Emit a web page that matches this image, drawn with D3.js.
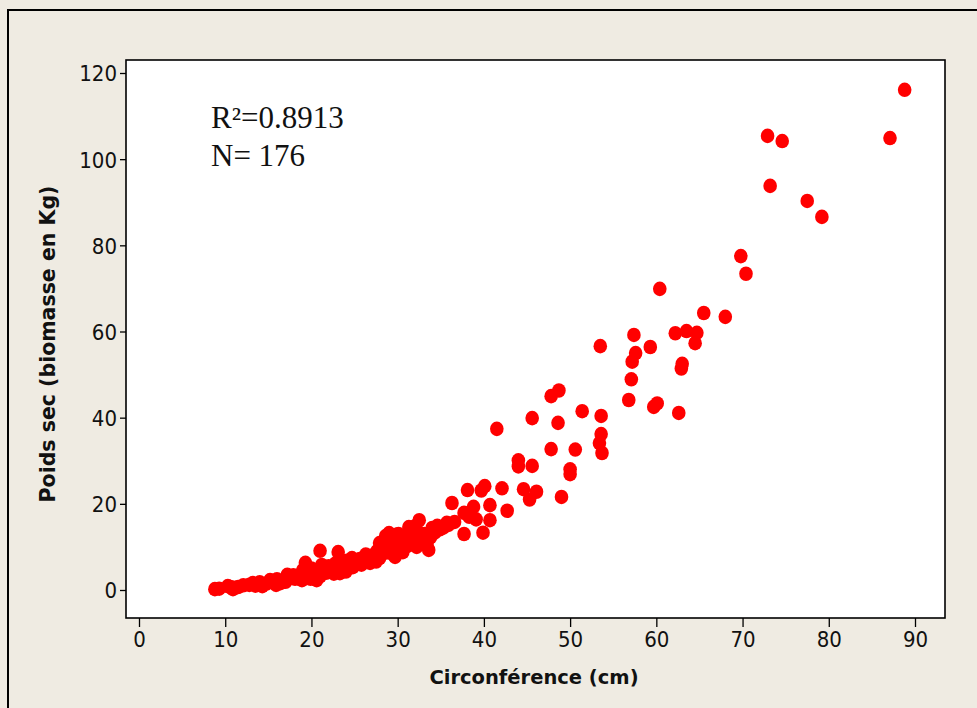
<!DOCTYPE html>
<meta charset="utf-8">
<style>
    body { margin: 0; background: #efebe2; }
    .tick text { font-family: "DejaVu Sans Condensed", "DejaVu Sans", sans-serif; font-size: 22px; fill: #111; }
    .axis-title { font-family: "DejaVu Sans", sans-serif; font-weight: bold; fill: #111; }
    .note { font-family: "Liberation Serif", serif; font-size: 31px; fill: #111; }
</style>
<svg id="svg" width="977" height="708"></svg>
<script src="https://d3js.org/d3.v7.min.js"></script>
<script>

    // circumference (cm) / dry weight (kg)
    var circ = [88.8, 87.1, 72.9, 74.6, 73.2, 77.5, 79.2, 69.8, 70.4, 60.4,
        65.5, 68.0, 62.2, 63.5, 64.7, 64.5, 57.4, 59.3, 53.5, 57.6,
        57.2, 63.0, 62.9, 57.1, 56.8, 59.7, 60.1, 62.6, 48.7, 47.8,
        41.5, 45.6, 48.6, 51.4, 53.6, 53.6, 53.4, 53.7, 47.8, 50.6,
        44.0, 44.0, 45.6, 50.0, 50.0, 44.6, 46.1, 45.3, 49.0, 42.1,
        38.1, 39.7, 40.1, 36.3, 40.7, 42.7, 37.7, 38.8, 38.3, 39.1,
        40.7, 37.7, 39.9, 35.7, 34.6, 33.6, 32.5, 31.3, 29.8, 29.0,
        27.9, 32.5, 34.0, 33.8, 32.2, 28.2, 29.7, 27.9, 26.2, 24.7,
        23.1, 21.0, 22.2, 23.3, 24.8, 26.8, 8.8, 10.6, 11.5, 13.2,
        14.3, 15.2, 16.4, 17.2, 18.4, 19.3, 19.5, 20.6, 21.2, 23.1,
        24.1, 10.3, 11.0, 12.8, 13.5, 14.0, 14.8, 15.6, 16.0, 16.8,
        17.5, 17.9, 18.1, 18.7, 19.0, 19.8, 20.0, 20.3, 20.8, 21.4,
        21.7, 22.0, 22.5, 22.8, 23.5, 23.8, 24.2, 24.5, 25.0, 25.3,
        25.6, 26.0, 26.5, 27.0, 27.3, 27.6, 28.0, 28.4, 28.7, 29.2,
        29.5, 29.9, 30.2, 30.5, 30.8, 31.0, 31.6, 31.9, 32.3, 32.8,
        33.1, 33.4, 34.3, 34.9, 35.3, 35.9, 36.6, 28.6, 29.4, 30.1,
        31.2, 26.3, 27.5, 25.8, 24.0, 22.6, 21.0, 19.9, 18.9, 17.0,
        15.9, 12.1, 9.3, 10.9, 30.6, 32.0];
    var poids = [116.1, 104.9, 105.4, 104.2, 93.8, 90.3, 86.6, 77.5, 73.4, 69.9,
        64.3, 63.4, 59.6, 60.1, 59.7, 57.3, 59.2, 56.4, 56.6, 55.0,
        53.0, 52.5, 51.4, 48.9, 44.1, 42.5, 43.3, 41.1, 46.3, 45.0,
        37.4, 39.9, 38.8, 41.5, 40.4, 36.2, 34.1, 31.8, 32.7, 32.6,
        30.1, 28.7, 28.8, 28.0, 26.9, 23.4, 22.8, 21.0, 21.6, 23.6,
        23.2, 23.1, 24.1, 20.2, 19.7, 18.4, 17.9, 19.3, 17.0, 16.4,
        16.2, 13.0, 13.3, 15.6, 14.9, 9.3, 16.2, 14.6, 12.8, 13.2,
        10.9, 12.3, 14.4, 12.2, 10.0, 11.1, 7.7, 7.4, 7.7, 7.4,
        8.8, 9.1, 4.6, 3.9, 5.3, 6.3, 0.2, 0.7, 0.7, 1.6,
        0.9, 2.3, 1.6, 3.5, 3.0, 6.3, 4.2, 2.3, 5.8, 4.6,
        6.8, 0.9, 0.5, 1.2, 1.0, 1.8, 1.5, 2.0, 2.5, 2.2,
        2.8, 3.4, 2.6, 3.6, 4.6, 3.1, 5.0, 3.8, 4.4, 4.9,
        4.0, 5.5, 5.1, 6.2, 5.8, 5.0, 6.1, 5.6, 6.9, 6.0,
        7.2, 6.5, 7.0, 8.0, 7.6, 9.0, 8.3, 9.8, 8.7, 10.2,
        11.5, 9.5, 10.8, 12.0, 9.9, 11.2, 12.4, 11.0, 13.6, 11.5,
        13.0, 10.7, 13.3, 14.1, 14.5, 15.1, 15.8, 12.5, 8.4, 13.0,
        10.3, 8.2, 6.6, 5.9, 4.3, 3.8, 3.2, 2.6, 2.3, 1.9,
        1.2, 1.1, 0.3, 0.2, 8.8, 14.8];

    var xTicks = [0, 10, 20, 30, 40, 50, 60, 70, 80, 90];
    var yTicks = [0, 20, 40, 60, 80, 100, 120];

    var svg = d3.select("svg");

    // outer frame
    svg.append("rect")
        .attr("x", 8).attr("y", 10)
        .attr("width", 1000).attr("height", 720)
        .attr("fill", "#efebe2")
        .attr("stroke", "#000").attr("stroke-width", 2);

    var box = {left: 126, top: 60, right: 945, bottom: 618};

    svg.append("rect")
        .attr("x", box.left).attr("y", box.top)
        .attr("width", box.right - box.left).attr("height", box.bottom - box.top)
        .attr("fill", "#fff");

    // scales: 0 -> 139px, 90 -> 915px ; 0 -> 590px, 120 -> 73px
    var x = d3.scaleLinear().domain([0, 90]).range([139, 915]);
    var y = d3.scaleLinear().domain([0, 120]).range([590, 73]);

    var pts = circ.map(function (c, i) { return {c: c, p: poids[i]}; });

    svg.append("g")
        .selectAll("ellipse")
        .data(pts)
        .enter().append("ellipse")
        .attr("cx", function (d) { return x(d.c); })
        .attr("cy", function (d) { return y(d.p); })
        .attr("rx", 6.8)
        .attr("ry", 7.3)
        .attr("fill", "#ff0000");

    svg.append("rect")
        .attr("x", box.left).attr("y", box.top)
        .attr("width", box.right - box.left).attr("height", box.bottom - box.top)
        .attr("fill", "none")
        .attr("stroke", "#000").attr("stroke-width", 1.6);

    var xAxis = svg.append("g")
        .attr("transform", "translate(0," + box.bottom + ")")
        .call(d3.axisBottom(x).tickValues(xTicks).tickSize(9).tickPadding(4));
    xAxis.select(".domain").remove();
    xAxis.selectAll(".tick line").attr("stroke", "#000").attr("stroke-width", 1.3);

    var yAxis = svg.append("g")
        .attr("transform", "translate(" + box.left + ",0)")
        .call(d3.axisLeft(y).tickValues(yTicks).tickSize(6).tickPadding(3));
    yAxis.select(".domain").remove();
    yAxis.selectAll(".tick line").attr("stroke", "#000").attr("stroke-width", 1.3);
    yAxis.selectAll(".tick text").attr("dy", "0.36em");

    svg.append("text")
        .attr("class", "axis-title")
        .attr("x", 534).attr("y", 684)
        .attr("font-size", 19.5)
        .attr("text-anchor", "middle")
        .text("Circonférence (cm)");

    svg.append("text")
        .attr("class", "axis-title")
        .attr("transform", "translate(55,344) rotate(-90)")
        .attr("font-size", 20.5)
        .attr("text-anchor", "middle")
        .text("Poids sec (biomasse en Kg)");

    svg.append("text").attr("class", "note")
        .attr("x", 211).attr("y", 128)
        .text("R²=0.8913");
    svg.append("text").attr("class", "note")
        .attr("x", 211).attr("y", 166)
        .text("N= 176");

</script>
